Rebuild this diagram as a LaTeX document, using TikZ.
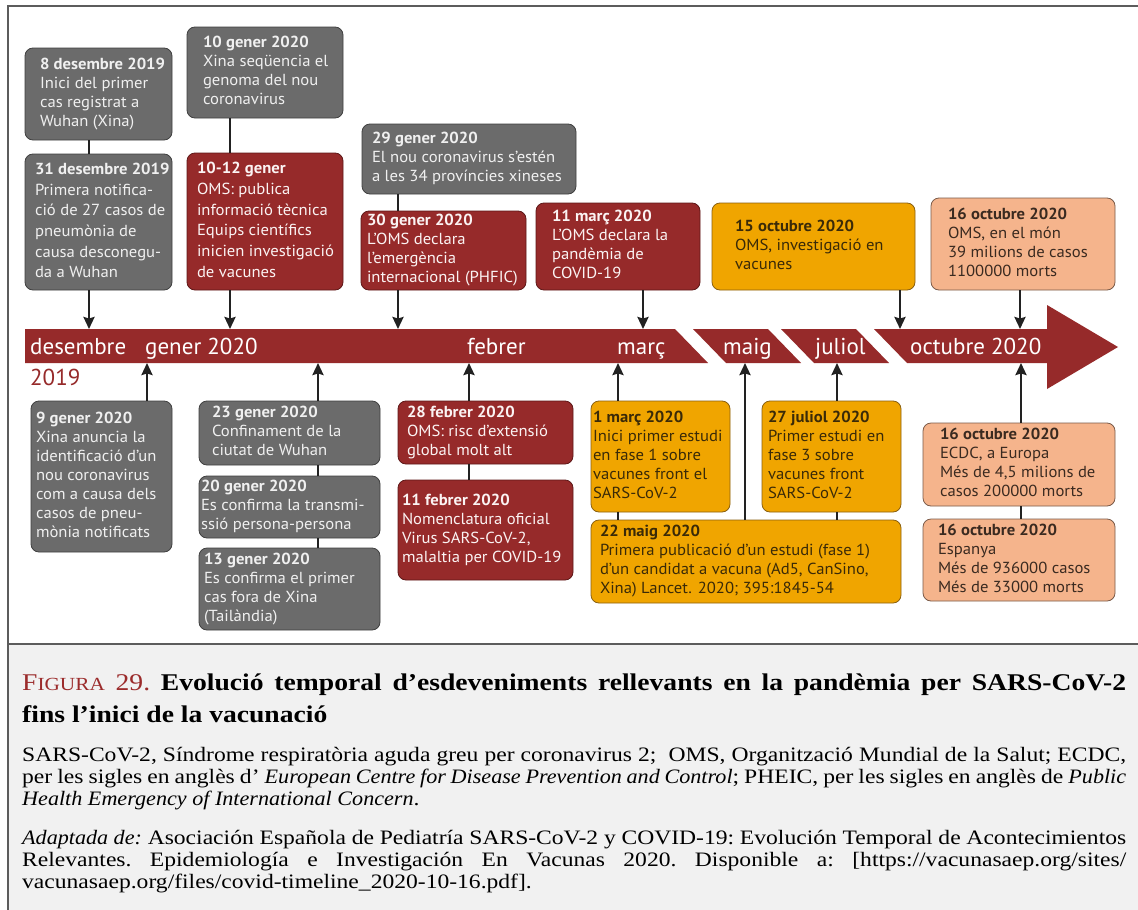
\documentclass[tikz,border=0pt]{standalone}
\usepackage{fontspec}
\usetikzlibrary{arrows.meta}

\newfontfamily\boxfont{PT Sans}[FakeStretch=1.04]
\newfontfamily\monthfont{PT Sans}
\newfontfamily\capfont{Liberation Serif}[FakeStretch=1.15]
\newfontfamily\capitfont{Liberation Serif}[FakeStretch=1.08]
\newfontfamily\captitlefont{Liberation Serif}[FakeStretch=1.15]
\newcommand\capit[1]{{\capitfont\itshape #1}}

\definecolor{barred}{HTML}{962A2A}
\definecolor{evgray}{HTML}{6B6B6B}
\definecolor{evgrayline}{HTML}{404040}
\definecolor{evgraytext}{HTML}{F0F0F0}
\definecolor{evred}{HTML}{962A2A}
\definecolor{evredline}{HTML}{5E1818}
\definecolor{evredtext}{HTML}{FBF3F3}
\definecolor{evorange}{HTML}{F0A500}
\definecolor{evorangeline}{HTML}{8A6010}
\definecolor{evorangetext}{HTML}{3A2A08}
\definecolor{evpeach}{HTML}{F5B48C}
\definecolor{evpeachline}{HTML}{7A5A48}
\definecolor{evpeachtext}{HTML}{3A2A20}
\definecolor{framegray}{HTML}{5C5C5C}
\definecolor{capbg}{HTML}{F1F1F1}
\definecolor{figred}{HTML}{9B2B2B}
\definecolor{arrowblack}{HTML}{222222}

% one event box: name, style, x1, y1, x2, y2, left padding, lines
\newcommand\evbox[8]{%
  \pgfmathsetmacro\evw{#5-#3}%
  \pgfmathsetmacro\evh{#6-#4}%
  \pgfmathsetmacro\evtw{#5-#3-2*#7}%
  \node[#2, minimum width=\evw pt, minimum height=\evh pt] (#1)
    at ({(#3+#5)/2},{(#4+#6)/2})
    {\makebox[\evtw pt][l]{\begin{tabular}{@{}l@{}}#8\end{tabular}}};}

\tikzset{
  evbase/.style={rounded corners=8pt, line width=0.8pt, inner sep=0pt,
    font=\boxfont\fontsize{16}{19}\selectfont},
  loose/.style={font=\boxfont\fontsize{16}{20.7}\selectfont},
  graybox/.style={evbase, draw=evgrayline, fill=evgray, text=evgraytext},
  redbox/.style={evbase, draw=evredline, fill=evred, text=evredtext},
  orangebox/.style={evbase, draw=evorangeline, fill=evorange, text=evorangetext},
  peachbox/.style={evbase, draw=evpeachline, fill=evpeach, text=evpeachtext},
  conn/.style={draw=arrowblack, line width=2.4pt},
  toline/.style={conn, -{Stealth[length=12pt,width=11pt,inset=1.5pt]}},
  month/.style={anchor=base west, inner sep=0pt, text=white,
    font=\monthfont\fontsize{23}{27}\selectfont},
  capline/.style={anchor=base west, inner sep=0pt,
    font=\capfont\fontsize{20.5}{22}\selectfont\frenchspacing},
  captitle/.style={anchor=base west, inner sep=0pt,
    font=\captitlefont\fontsize{24}{28}\selectfont\frenchspacing},
}

\begin{document}
\begin{tikzpicture}[x=1pt, y=-1pt]
\useasboundingbox (0,0) rectangle (1138,910);

% panels and frame
\fill[white] (0,0) rectangle (1138,910);
\fill[capbg] (8,644) rectangle (1138,910);
\draw[framegray, line width=2pt] (8,910) -- (8,6) -- (1138,6);
\draw[framegray, line width=2pt] (8,644) -- (1138,644);

% timeline bar
\fill[barred] (25,329) -- (675,329) -- (708,363) -- (25,363) -- cycle;
\fill[barred] (693,329) -- (768,329) -- (801,363) -- (726,363) -- cycle;
\fill[barred] (781,329) -- (856,329) -- (889,363) -- (814,363) -- cycle;
\fill[barred] (874,329) -- (1047,329) -- (1047,305) -- (1118,347)
  -- (1047,389) -- (1047,363) -- (907,363) -- cycle;

\node[month] (mdes) at (30,354) {desembre};
\node[month] (mgen) at (145,354) {gener 2020};
\node[month] (mfeb) at (467,354) {febrer};
\node[month] (mmar) at (617,354) {març};
\node[month] (mmai) at (723,354) {maig};
\node[month] (mjul) at (815,354) {juliol};
\node[month] (moct) at (910,354) {octubre 2020};
\node[month, text=barred] (y2019) at (30,385) {2019};

% points on the bar
\coordinate (tA) at (89,329);
\coordinate (tD) at (230,329);
\coordinate (tF) at (398,329);
\coordinate (tG) at (643,329);
\coordinate (tH) at (900,329);
\coordinate (tI) at (1020,329);
\coordinate (bJ) at (147,363);
\coordinate (bK) at (318,363);
\coordinate (bN) at (469,363);
\coordinate (bP) at (618,363);
\coordinate (bQ) at (745,363);
\coordinate (bR) at (837,363);
\coordinate (bS) at (1021,363);

% events above the bar
\evbox{A}{graybox}{25}{48}{172}{140}{15}{\textbf{8 desembre 2019}\\Inici del primer\\cas registrat a\\Wuhan (Xina)}
\evbox{B}{graybox, loose}{25}{154}{172}{290}{10}{\textbf{31 desembre 2019}\\Primera notifica-\\ció de 27 casos de\\pneumònia de\\causa desconegu-\\da a Wuhan}
\evbox{C}{graybox}{187}{27}{343}{118}{16}{\textbf{10 gener 2020}\\Xina seqüencia el\\genoma del nou\\coronavirus}
\evbox{D}{redbox, loose}{187}{153}{343}{290}{10}{\textbf{10-12 gener}\\OMS: publica\\informació tècnica\\Equips científics\\inicien investigació\\de vacunes}
\evbox{E}{graybox}{362}{124}{576}{194}{10}{\textbf{29 gener 2020}\\El nou coronavirus s’estén\\a les 34 províncies xineses}
\evbox{F}{redbox}{361}{211}{526}{290}{6}{\textbf{30 gener 2020}\\L’OMS declara\\l’emergència\\internacional (PHFIC)}
\evbox{G}{redbox}{536}{203}{700}{290}{16}{\textbf{11 març 2020}\\L’OMS declara la\\pandèmia de\\COVID-19}
\evbox{H}{orangebox}{712}{203}{915}{290}{23}{\textbf{15 octubre 2020}\\OMS, investigació en\\vacunes}
\evbox{I}{peachbox}{931}{198}{1115}{290}{17}{\textbf{16 octubre 2020}\\OMS, en el món\\39 milions de casos\\1100000 morts}

% events below the bar
\evbox{J}{graybox}{31}{401}{172}{552}{5}{\textbf{9 gener 2020}\\Xina anuncia la\\identificació d’un\\nou coronavirus\\com a causa dels\\casos de pneu-\\mònia notificats}
\evbox{K}{graybox}{199}{401}{380}{465}{13}{\textbf{23 gener 2020}\\Confinament de la\\ciutat de Wuhan}
\evbox{L}{graybox}{199}{476}{380}{538}{2}{\textbf{20 gener 2020}\\Es confirma la transmi-\\ssió persona-persona}
\evbox{M}{graybox}{199}{548}{380}{630}{5}{\textbf{13 gener 2020}\\Es confirma el primer\\cas fora de Xina\\(Tailàndia)}
\evbox{N}{redbox}{398}{401}{573}{464}{9}{\textbf{28 febrer 2020}\\OMS: risc d’extensió\\global molt alt}
\evbox{O}{redbox}{398}{480}{573}{580}{4}{\textbf{11 febrer 2020}\\Nomenclatura oficial\\Virus SARS-CoV-2,\\malaltia per COVID-19}
\evbox{P}{orangebox}{591}{401}{730}{512}{2}{\textbf{1 març 2020}\\Inici primer estudi\\en fase 1 sobre\\vacunes front el\\SARS-CoV-2}
\evbox{Q}{orangebox}{591}{520}{901}{603}{9}{\textbf{22 maig 2020}\\Primera publicació d’un estudi (fase 1)\\d’un candidat a vacuna (Ad5, CanSino,\\Xina) Lancet. 2020; 395:1845-54}
\evbox{R}{orangebox}{762}{401}{901}{512}{6}{\textbf{27 juliol 2020}\\Primer estudi en\\fase 3 sobre\\vacunes front\\SARS-CoV-2}
\evbox{S}{peachbox}{923}{423}{1115}{506}{17}{\textbf{16 octubre 2020}\\ECDC, a Europa\\Més de 4,5 milions de\\casos 200000 morts}
\evbox{T}{peachbox}{923}{519}{1115}{601}{15}{\textbf{16 octubre 2020}\\Espanya\\Més de 936000 casos\\Més de 33000 morts}

% links between stacked boxes
\draw[conn] (A.south -| tA) -- (B.north -| tA);
\draw[conn] (C.south -| tD) -- (D.north -| tD);
\draw[conn] (E.south -| tF) -- (F.north -| tF);
\draw[conn] (K.south -| bK) -- (L.north -| bK);
\draw[conn] (L.south -| bK) -- (M.north -| bK);
\draw[conn] (N.south -| bN) -- (O.north -| bN);
\draw[conn] (P.south -| bP) -- (Q.north -| bP);
\draw[conn] (R.south -| bR) -- (Q.north -| bR);
\draw[conn] (S.south -| bS) -- (T.north -| bS);

% arrows onto the bar
\draw[toline] (B.south -| tA) -- (tA);
\draw[toline] (D.south -| tD) -- (tD);
\draw[toline] (F.south -| tF) -- (tF);
\draw[toline] (G.south -| tG) -- (tG);
\draw[toline] (H.south -| tH) -- (tH);
\draw[toline] (I.south -| tI) -- (tI);
\draw[toline] (J.north -| bJ) -- (bJ);
\draw[toline] (K.north -| bK) -- (bK);
\draw[toline] (N.north -| bN) -- (bN);
\draw[toline] (P.north -| bP) -- (bP);
\draw[toline] (Q.north -| bQ) -- (bQ);
\draw[toline] (R.north -| bR) -- (bR);
\draw[toline] (S.north -| bS) -- (bS);

% caption
\node[captitle] (cap1) at (22,690)
  {\makebox[1104pt][s]{{\color{figred}F{\fontsize{18.5}{22}\selectfont IGURA} 29.} \textbf{Evolució temporal d’esdeveniments rellevants en la pandèmia per SARS-CoV-2}}};
\node[captitle] (cap2) at (22,722)
  {\textbf{fins l’inici de la vacunació}};
\node[capline] (txt1) at (22,761)
  {\makebox[1104pt][s]{SARS-CoV-2, Síndrome respiratòria aguda greu per coronavirus 2;\ \ OMS, Organització Mundial de la Salut; ECDC,}};
\node[capline] (txt2) at (22,783)
  {\makebox[1104pt][s]{per les sigles en anglès d’ \capit{European Centre for Disease Prevention and Control}; PHEIC, per les sigles en anglès de \capit{Public}}};
\node[capline] (txt3) at (22,805)
  {\capit{Health Emergency of International Concern}.};
\node[capline] (src1) at (22,844)
  {\makebox[1104pt][s]{\capit{Adaptada de:} Asociación Española de Pediatría SARS-CoV-2 y COVID-19: Evolución Temporal de Acontecimientos}};
\node[capline] (src2) at (22,866)
  {\makebox[1104pt][s]{Relevantes. Epidemiología e Investigación En Vacunas 2020. Disponible a: [https://vacunasaep.org/sites/}};
\node[capline] (src3) at (22,888)
  {vacunasaep.org/files/covid-timeline\_2020-10-16.pdf].};
\end{tikzpicture}
\end{document}
